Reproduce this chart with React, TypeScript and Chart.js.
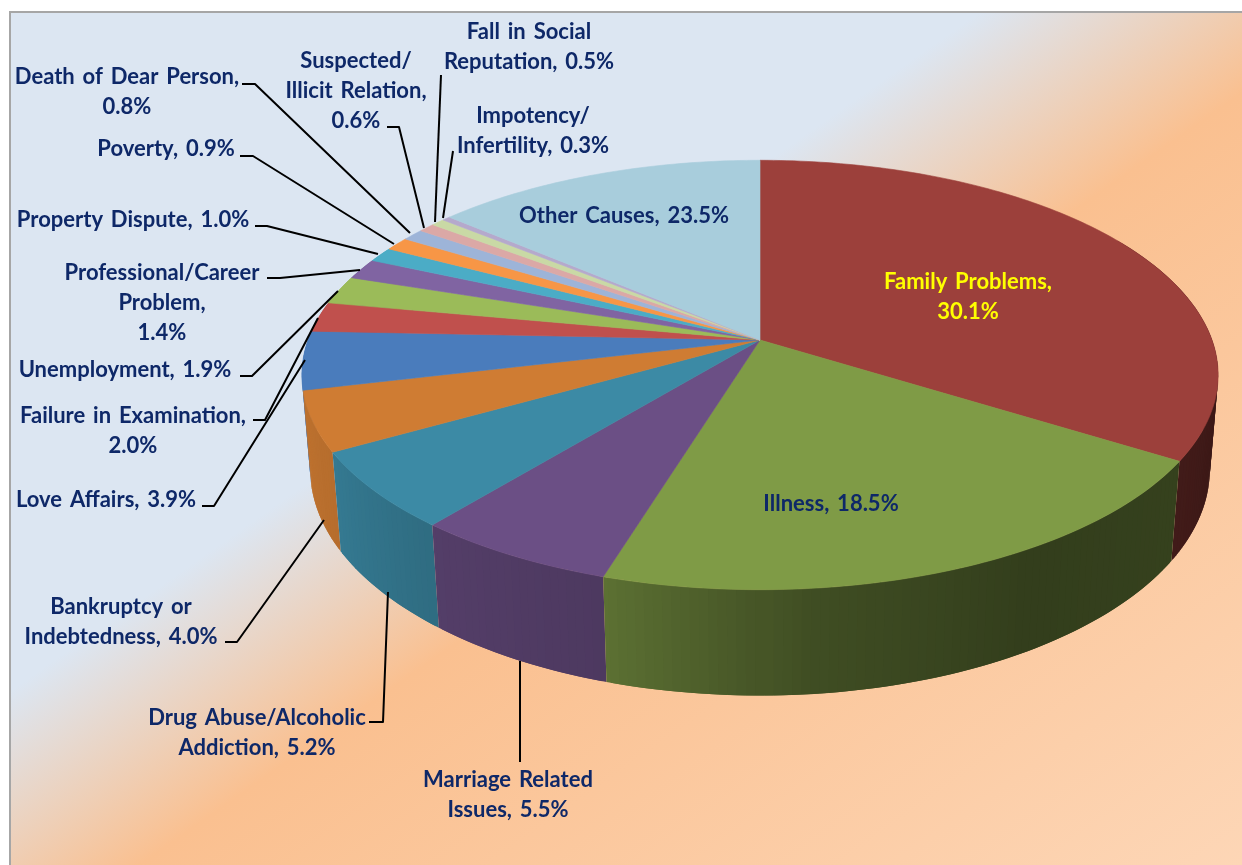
import React, { useEffect, useRef } from "react";
import { Chart, registerables } from "chart.js";

Chart.register(...registerables);

// Slice sizes as they are drawn in the picture (Other Causes is drawn far smaller than its label says).
const sliceValues = [30.1, 18.5, 5.5, 5.2, 4.0, 3.9, 2.0, 1.9, 1.4, 1.0, 0.9, 0.8, 0.6, 0.5, 0.3, 12.2];
const labelPercents = ["30.1", "18.5", "5.5", "5.2", "4.0", "3.9", "2.0", "1.9", "1.4", "1.0", "0.9", "0.8", "0.6", "0.5", "0.3", "23.5"];
const categories = [
  "Family Problems", "Illness", "Marriage Related Issues", "Drug Abuse/Alcoholic Addiction",
  "Bankruptcy or Indebtedness", "Love Affairs", "Failure in Examination", "Unemployment",
  "Professional/Career Problem", "Property Dispute", "Poverty", "Death of Dear Person",
  "Suspected/Illicit Relation", "Fall in Social Reputation", "Impotency/Infertility", "Other Causes",
];
const sliceColors = [
  "#9c403b", "#7f9b46", "#6b4f85", "#3c8aa5", "#cf7c33", "#4a7cbc", "#c0504d", "#9bbb59",
  "#8064a2", "#4bacc6", "#f79646", "#9db4d8", "#dba8a6", "#c9d9a5", "#b5a9cc", "#a8cddc",
];
// Line breaks of each label; {v} stands for the slice's printed percentage.
const labelLines = [
  ["Family Problems,", "{v}%"], ["Illness, {v}%"], ["Marriage Related", "Issues, {v}%"],
  ["Drug Abuse/Alcoholic", "Addiction, {v}%"], ["Bankruptcy or", "Indebtedness, {v}%"], ["Love Affairs, {v}%"],
  ["Failure in Examination,", "{v}%"], ["Unemployment, {v}%"], ["Professional/Career", "Problem,", "{v}%"],
  ["Property Dispute, {v}%"], ["Poverty, {v}%"], ["Death of Dear Person,", "{v}%"],
  ["Suspected/", "Illicit Relation,", "{v}%"], ["Fall in Social", "Reputation, {v}%"],
  ["Impotency/", "Infertility, {v}%"], ["Other Causes, {v}%"],
];
// Centre x and first-line centre y of each label.
const labelAnchors = [
  [968, 282], [831, 504], [508, 780], [257, 718], [121, 607], [106, 500], [133, 416], [125, 370],
  [162, 273], [133, 220], [166, 149], [127, 77], [356, 61], [529, 32], [533, 116], [624, 216],
];
const leaderLines = [
  null, null, [[520, 762], [520, 661]], [[369, 722], [383, 722], [388, 592]],
  [[225, 642], [237, 642], [324, 520]], [[202, 506], [214, 506], [305, 360]],
  [[253, 420], [265, 420], [318, 318]], [[240, 376], [252, 376], [338, 291]],
  [[267, 278], [280, 278], [360, 270]], [[255, 226], [267, 226], [378, 254]],
  [[240, 156], [253, 156], [394, 244]], [[242, 84], [255, 84], [410, 233]],
  [[387, 127], [399, 127], [424, 228]], [[441, 75], [435, 222]], [[453, 151], [443, 218]], null,
];

// Perspective camera of the 3-D pie.
const APEX_X = 760, APEX_Y = 340, A = 452, B = 209, K = 0.163, DEPTH = 95, M = 0.018;
const project = (phi: number, z: number) => {
  const u = Math.cos(phi), v = Math.sin(phi);
  const w = 1 - K * v + M * z;
  return [APEX_X + (A * u) / w, APEX_Y + (B * v + DEPTH * z) / w];
};
// Wall brightness against clockwise degrees from the back of the pie.
const wallShade = [[0, 0.35], [90, 0.35], [122, 0.42], [150, 0.4], [175, 0.5], [196, 0.72], [218, 0.78], [240, 0.88], [270, 0.95], [360, 0.95]];
const shadeAt = (deg: number) => {
  for (let i = 1; i < wallShade.length; i++) {
    if (deg <= wallShade[i][0]) {
      const [a0, s0] = wallShade[i - 1], [a1, s1] = wallShade[i];
      return s0 + ((s1 - s0) * (deg - a0)) / (a1 - a0);
    }
  }
  return 1;
};
const darken = (hex: string, s: number) => {
  const n = parseInt(hex.slice(1), 16);
  return `rgb(${((n >> 16) & 255) * s},${((n >> 8) & 255) * s},${(n & 255) * s})`;
};

const pie3d = {
  id: "pie3d",
  beforeDraw(chart: any) {
    const { ctx, width, height } = chart;
    ctx.save();
    ctx.fillStyle = "#ffffff";
    ctx.fillRect(0, 0, width, height);
    const g = ctx.createLinearGradient(0, 0, 815, 1164);
    g.addColorStop(0, "#dce6f2");
    g.addColorStop(0.4025, "#dce6f2");
    g.addColorStop(0.555, "#fac090");
    g.addColorStop(1, "#fdd6b6");
    ctx.fillStyle = g;
    ctx.fillRect(11, 13, width, height);
    ctx.strokeStyle = "#a6a6a6";
    ctx.lineWidth = 2;
    ctx.beginPath();
    ctx.moveTo(10, height);
    ctx.lineTo(10, 12);
    ctx.lineTo(width, 12);
    ctx.stroke();
    ctx.restore();
  },
  beforeDatasetDraw(chart: any, args: any) {
    const { ctx } = chart;
    const arcs = chart.getDatasetMeta(args.index).data;
    const strips: any[] = [];
    arcs.forEach((arc: any, i: number) => {
      const span = arc.endAngle - arc.startAngle;
      const steps = Math.max(1, Math.ceil((span * 180) / Math.PI));
      const pad = span / steps / 2;
      for (let s = 0; s < steps; s++) {
        const a0 = arc.startAngle + (span * s) / steps;
        const a1 = arc.startAngle + (span * (s + 1)) / steps;
        strips.push({
          a0: Math.max(arc.startAngle, a0 - pad),
          a1: Math.min(arc.endAngle, a1 + pad),
          mid: (a0 + a1) / 2,
          i,
          v: Math.sin((a0 + a1) / 2),
        });
      }
    });
    ctx.save();
    strips
      .filter((s) => s.v > -0.5)
      .sort((p, q) => p.v - q.v)
      .forEach((s) => {
        const deg = ((s.mid + Math.PI / 2) * 180) / Math.PI;
        ctx.fillStyle = darken(arcs[s.i].options.backgroundColor, shadeAt(((deg % 360) + 360) % 360));
        const pts = [project(s.a0, 0), project(s.a1, 0), project(s.a1, 1), project(s.a0, 1)];
        ctx.beginPath();
        pts.forEach((p, j) => (j ? ctx.lineTo(p[0], p[1]) : ctx.moveTo(p[0], p[1])));
        ctx.closePath();
        ctx.fill();
      });
    arcs.forEach((arc: any) => {
      const col = arc.options.backgroundColor;
      ctx.fillStyle = col;
      ctx.strokeStyle = col;
      ctx.lineWidth = 0.6;
      ctx.beginPath();
      ctx.moveTo(APEX_X, APEX_Y);
      const n = Math.max(2, Math.ceil(((arc.endAngle - arc.startAngle) * 180) / Math.PI));
      for (let s = 0; s <= n; s++) {
        const p = project(arc.startAngle + ((arc.endAngle - arc.startAngle) * s) / n, 0);
        ctx.lineTo(p[0], p[1]);
      }
      ctx.closePath();
      ctx.fill();
      ctx.stroke();
    });
    ctx.restore();
    return false;
  },
  afterDatasetsDraw(chart: any) {
    const { ctx } = chart;
    ctx.save();
    ctx.strokeStyle = "#000000";
    ctx.lineWidth = 2;
    ctx.lineJoin = "round";
    leaderLines.forEach((line) => {
      if (!line) return;
      ctx.beginPath();
      line.forEach((p, j) => (j ? ctx.lineTo(p[0], p[1]) : ctx.moveTo(p[0], p[1])));
      ctx.stroke();
    });
    ctx.font = "bold 22px Lato";
    ctx.wordSpacing = "2.5px";
    ctx.textAlign = "center";
    ctx.textBaseline = "middle";
    labelLines.forEach((lines, i) => {
      ctx.fillStyle = i === 0 ? "#ffff00" : "#0e2868";
      lines.forEach((t, j) => {
        ctx.fillText(t.replace("{v}", labelPercents[i]), labelAnchors[i][0], labelAnchors[i][1] + j * 30);
      });
    });
    ctx.restore();
  },
};

export default function App() {
  const ref = useRef<HTMLCanvasElement>(null);
  useEffect(() => {
    const chart = new Chart(ref.current as HTMLCanvasElement, {
      type: "pie",
      data: {
        labels: categories,
        datasets: [{ data: sliceValues, backgroundColor: sliceColors, borderWidth: 0 }],
      },
      options: {
        animation: false,
        responsive: false,
        rotation: 0,
        plugins: { legend: { display: false }, tooltip: { enabled: false } },
      },
      plugins: [pie3d],
    } as any);
    return () => chart.destroy();
  }, []);
  return (
    <div style={{ position: "absolute", left: 0, top: 0 }}>
      <canvas ref={ref} width={1242} height={865} style={{ display: "block" }} />
    </div>
  );
}
